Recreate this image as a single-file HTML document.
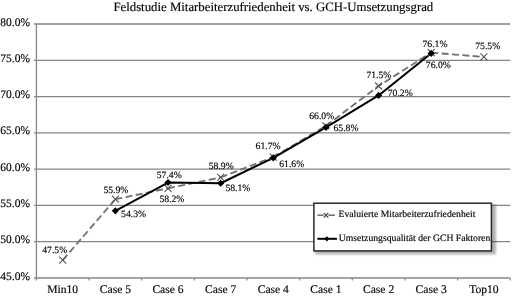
<!DOCTYPE html><html><head><meta charset="utf-8"><style>html,body{margin:0;padding:0;background:#fff;width:512px;height:296px;overflow:hidden}svg{display:block}text{font-family:"Liberation Serif",serif;fill:#000;stroke:#000;stroke-width:0.15px;text-rendering:geometricPrecision}svg{will-change:transform}</style></head><body>
<svg width="512" height="296" viewBox="0 0 512 296">
<text x="273.3" y="11.3" font-size="12.8" text-anchor="middle" fill="#111">Feldstudie Mitarbeiterzufriedenheit vs. GCH-Umsetzungsgrad</text>
<line x1="34" y1="24.00" x2="510.20" y2="24.00" stroke="#868686" stroke-width="1.3"/>
<text x="30" y="25.60" font-size="11.5" text-anchor="end">80.0%</text>
<line x1="34" y1="60.29" x2="510.20" y2="60.29" stroke="#868686" stroke-width="1.3"/>
<text x="30" y="61.89" font-size="11.5" text-anchor="end">75.0%</text>
<line x1="34" y1="96.57" x2="510.20" y2="96.57" stroke="#868686" stroke-width="1.3"/>
<text x="30" y="98.17" font-size="11.5" text-anchor="end">70.0%</text>
<line x1="34" y1="132.86" x2="510.20" y2="132.86" stroke="#868686" stroke-width="1.3"/>
<text x="30" y="134.46" font-size="11.5" text-anchor="end">65.0%</text>
<line x1="34" y1="169.14" x2="510.20" y2="169.14" stroke="#868686" stroke-width="1.3"/>
<text x="30" y="170.74" font-size="11.5" text-anchor="end">60.0%</text>
<line x1="34" y1="205.43" x2="510.20" y2="205.43" stroke="#868686" stroke-width="1.3"/>
<text x="30" y="207.03" font-size="11.5" text-anchor="end">55.0%</text>
<line x1="34" y1="241.72" x2="510.20" y2="241.72" stroke="#868686" stroke-width="1.3"/>
<text x="30" y="243.32" font-size="11.5" text-anchor="end">50.0%</text>
<line x1="34" y1="278.00" x2="510.20" y2="278.00" stroke="#868686" stroke-width="1.3"/>
<text x="30" y="279.60" font-size="11.5" text-anchor="end">45.0%</text>
<line x1="36.40" y1="23.5" x2="36.40" y2="280.60" stroke="#868686" stroke-width="1.3"/>
<line x1="89.04" y1="278.00" x2="89.04" y2="280.60" stroke="#868686" stroke-width="1.2"/>
<line x1="141.69" y1="278.00" x2="141.69" y2="280.60" stroke="#868686" stroke-width="1.2"/>
<line x1="194.33" y1="278.00" x2="194.33" y2="280.60" stroke="#868686" stroke-width="1.2"/>
<line x1="246.98" y1="278.00" x2="246.98" y2="280.60" stroke="#868686" stroke-width="1.2"/>
<line x1="299.62" y1="278.00" x2="299.62" y2="280.60" stroke="#868686" stroke-width="1.2"/>
<line x1="352.27" y1="278.00" x2="352.27" y2="280.60" stroke="#868686" stroke-width="1.2"/>
<line x1="404.91" y1="278.00" x2="404.91" y2="280.60" stroke="#868686" stroke-width="1.2"/>
<line x1="457.56" y1="278.00" x2="457.56" y2="280.60" stroke="#868686" stroke-width="1.2"/>
<line x1="510.20" y1="278.00" x2="510.20" y2="280.60" stroke="#868686" stroke-width="1.2"/>
<text x="62.72" y="292.9" font-size="11.6" text-anchor="middle">Min10</text>
<text x="115.37" y="292.9" font-size="11.6" text-anchor="middle">Case 5</text>
<text x="168.01" y="292.9" font-size="11.6" text-anchor="middle">Case 6</text>
<text x="220.66" y="292.9" font-size="11.6" text-anchor="middle">Case 7</text>
<text x="273.30" y="292.9" font-size="11.6" text-anchor="middle">Case 4</text>
<text x="325.94" y="292.9" font-size="11.6" text-anchor="middle">Case 1</text>
<text x="378.59" y="292.9" font-size="11.6" text-anchor="middle">Case 2</text>
<text x="431.23" y="292.9" font-size="11.6" text-anchor="middle">Case 3</text>
<text x="483.88" y="292.9" font-size="11.6" text-anchor="middle">Top10</text>
<line x1="62.72" y1="260.16" x2="115.37" y2="199.20" stroke="#727272" stroke-width="1.85" stroke-dasharray="7 3.4" stroke-dashoffset="0"/>
<line x1="115.37" y1="199.20" x2="168.01" y2="188.31" stroke="#727272" stroke-width="1.85" stroke-dasharray="7 3.4" stroke-dashoffset="0"/>
<line x1="168.01" y1="188.31" x2="220.66" y2="177.43" stroke="#727272" stroke-width="1.85" stroke-dasharray="7 3.4" stroke-dashoffset="0"/>
<line x1="220.66" y1="177.43" x2="273.30" y2="157.11" stroke="#727272" stroke-width="1.85" stroke-dasharray="7 3.4" stroke-dashoffset="0"/>
<line x1="273.30" y1="157.11" x2="325.94" y2="125.90" stroke="#727272" stroke-width="1.85" stroke-dasharray="7 3.4" stroke-dashoffset="0"/>
<line x1="325.94" y1="125.90" x2="378.59" y2="85.99" stroke="#727272" stroke-width="1.85" stroke-dasharray="7 3.4" stroke-dashoffset="0"/>
<line x1="378.59" y1="85.99" x2="431.23" y2="52.60" stroke="#727272" stroke-width="1.85" stroke-dasharray="7 3.4" stroke-dashoffset="3.3"/>
<line x1="431.23" y1="52.60" x2="483.88" y2="56.96" stroke="#727272" stroke-width="1.85" stroke-dasharray="7 3.4" stroke-dashoffset="0"/>
<polyline points="115.37,210.81 168.01,182.51 220.66,183.23 273.30,157.83 325.94,127.35 378.59,95.42 431.23,53.33" fill="none" stroke="#000" stroke-width="2.0" stroke-linejoin="round"/>
<path d="M59.22,256.66L66.22,263.66M66.22,256.66L59.22,263.66" stroke="#555" stroke-width="1.1" fill="none"/>
<path d="M111.87,195.70L118.87,202.70M118.87,195.70L111.87,202.70" stroke="#555" stroke-width="1.1" fill="none"/>
<path d="M164.51,184.81L171.51,191.81M171.51,184.81L164.51,191.81" stroke="#555" stroke-width="1.1" fill="none"/>
<path d="M217.16,173.93L224.16,180.93M224.16,173.93L217.16,180.93" stroke="#555" stroke-width="1.1" fill="none"/>
<path d="M269.80,153.61L276.80,160.61M276.80,153.61L269.80,160.61" stroke="#555" stroke-width="1.1" fill="none"/>
<path d="M322.44,122.40L329.44,129.40M329.44,122.40L322.44,129.40" stroke="#555" stroke-width="1.1" fill="none"/>
<path d="M375.09,82.49L382.09,89.49M382.09,82.49L375.09,89.49" stroke="#555" stroke-width="1.1" fill="none"/>
<path d="M427.73,49.10L434.73,56.10M434.73,49.10L427.73,56.10" stroke="#555" stroke-width="1.1" fill="none"/>
<path d="M480.38,53.46L487.38,60.46M487.38,53.46L480.38,60.46" stroke="#555" stroke-width="1.1" fill="none"/>
<path d="M115.37,207.21L118.97,210.81L115.37,214.41L111.77,210.81Z" fill="#000"/>
<path d="M168.01,178.91L171.61,182.51L168.01,186.11L164.41,182.51Z" fill="#000"/>
<path d="M220.66,179.63L224.26,183.23L220.66,186.83L217.06,183.23Z" fill="#000"/>
<path d="M273.30,154.23L276.90,157.83L273.30,161.43L269.70,157.83Z" fill="#000"/>
<path d="M325.94,123.75L329.54,127.35L325.94,130.95L322.34,127.35Z" fill="#000"/>
<path d="M378.59,91.82L382.19,95.42L378.59,99.02L374.99,95.42Z" fill="#000"/>
<path d="M431.23,49.73L434.83,53.33L431.23,56.93L427.63,53.33Z" fill="#000"/>
<text x="42.20" y="253.00" font-size="9.7">47.5%</text>
<text x="103.40" y="193.40" font-size="9.7">55.9%</text>
<text x="156.70" y="178.40" font-size="9.7">57.4%</text>
<text x="208.70" y="168.50" font-size="9.7">58.9%</text>
<text x="255.60" y="149.40" font-size="9.7">61.7%</text>
<text x="309.20" y="118.50" font-size="9.7">66.0%</text>
<text x="366.40" y="77.90" font-size="9.7">71.5%</text>
<text x="422.50" y="47.00" font-size="9.7">76.1%</text>
<text x="475.20" y="48.50" font-size="9.7">75.5%</text>
<text x="121.10" y="217.20" font-size="9.7">54.3%</text>
<text x="159.40" y="201.50" font-size="9.7">58.2%</text>
<text x="225.40" y="190.80" font-size="9.7">58.1%</text>
<text x="279.20" y="166.90" font-size="9.7">61.6%</text>
<text x="333.50" y="131.10" font-size="9.7">65.8%</text>
<text x="387.70" y="95.80" font-size="9.7">70.2%</text>
<text x="425.80" y="67.50" font-size="9.7">76.0%</text>
<defs><filter id="sh" x="-10%" y="-10%" width="120%" height="130%"><feGaussianBlur stdDeviation="0.8"/></filter></defs>
<rect x="314.8" y="204.6" width="181.2" height="49.8" fill="#000" opacity="0.3" filter="url(#sh)"/>
<rect x="313.9" y="203.2" width="177.5" height="47.7" fill="#fff" stroke="#222" stroke-width="1.45"/>
<line x1="317.4" y1="215.2" x2="323.6" y2="215.2" stroke="#727272" stroke-width="1.6"/>
<line x1="328.4" y1="215.2" x2="334.9" y2="215.2" stroke="#727272" stroke-width="1.6"/>
<path d="M323.7,212.89999999999998L328.3,217.5M328.3,212.89999999999998L323.7,217.5" stroke="#444" stroke-width="1.1" fill="none"/>
<line x1="317.3" y1="238.8" x2="336.9" y2="238.8" stroke="#000" stroke-width="2"/>
<path d="M326.9,236.20000000000002L329.5,238.8L326.9,241.4L324.29999999999995,238.8Z" fill="#000"/>
<text x="338.5" y="217.4" font-size="9.7">Evaluierte Mitarbeiterzufriedenheit</text>
<text x="338.8" y="241.0" font-size="9.7">Umsetzungsqualität der GCH Faktoren</text>
</svg></body></html>
